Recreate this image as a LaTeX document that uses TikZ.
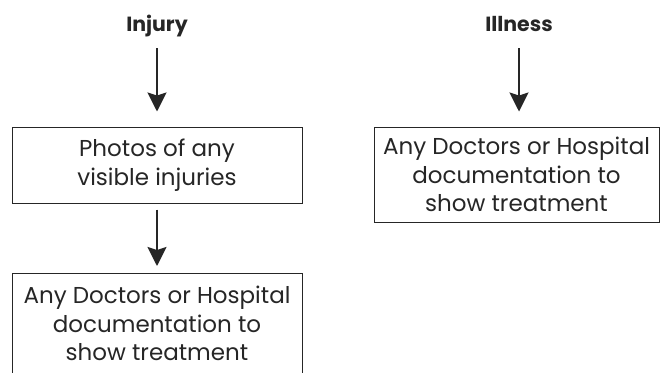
\documentclass[tikz,border=0pt]{standalone}
\usepackage{fontspec}
\setmainfont{Poppins}
\usetikzlibrary{arrows.meta}
\definecolor{ink}{HTML}{262626}
\begin{document}
\begin{tikzpicture}[x=1pt,y=-1pt,
  head/.style={font=\fontsize{20.5}{22}\selectfont\bfseries, text=ink, inner sep=0pt, text height=14pt, text depth=4pt},
  box/.style={draw=ink, line width=1pt, inner sep=0pt, align=center, text=ink,
    font=\fontsize{23}{28.5}\selectfont},
  flow/.style={draw=ink, line width=2pt, -{Stealth[length=19pt,width=19pt,inset=3pt]}}]
\useasboundingbox (0,0) rectangle (661,372);
\clip (0,0) rectangle (661,372);
\fill[white] (0,0) rectangle (661,372);
% left column
\node[head] (inj) at (157,26) {Injury};
\node[box, minimum width=290pt, minimum height=76pt] (photos) at (157,165) {Photos of any\\visible injuries};
\node[box, minimum width=290pt, minimum height=100pt, anchor=north] (docL) at (157,273) {Any Doctors or Hospital\\documentation to\\show treatment};
% right column
\node[head] (ill) at (519,26) {Illness};
\node[box, minimum width=285pt, minimum height=95pt] (docR) at (516.5,174.5) {Any Doctors or Hospital\\documentation to\\show treatment};
% arrows
\draw[flow, shorten <=13pt, shorten >=15pt] (inj.south) -- (inj |- photos.north);
\draw[flow, shorten <=6pt, shorten >=7pt] (photos.south) -- (docL.north);
\draw[flow, shorten <=13pt, shorten >=15pt] (ill.south) -- (ill |- docR.north);
\end{tikzpicture}
\end{document}
